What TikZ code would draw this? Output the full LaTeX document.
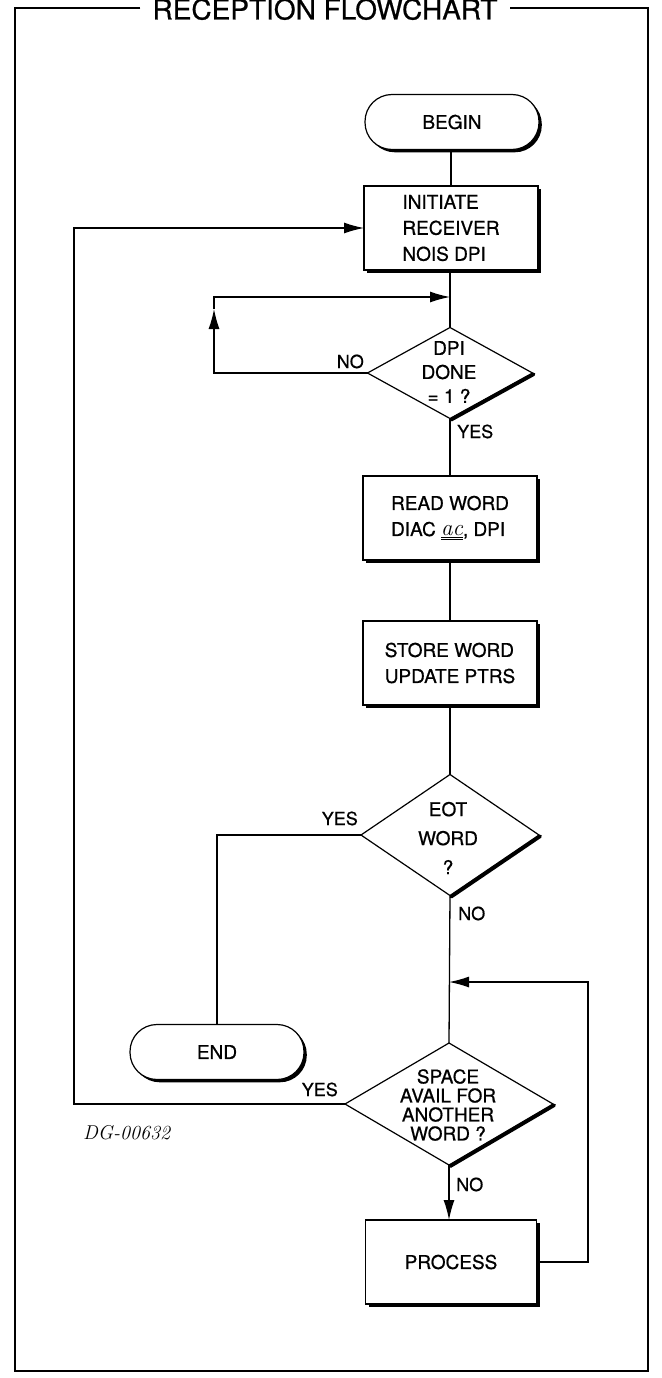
\documentclass[tikz,border=0pt]{standalone}
\usepackage{fontspec}
\setmainfont{TeX Gyre Heros}[FakeBold=0.7]
\usetikzlibrary{shapes.geometric,backgrounds,arrows.meta}
\newcommand{\acsym}{$\underline{\underline{\hbox{\fontfamily{lmr}\itshape\fontsize{23}{26}\selectfont ac}}}$}
\begin{document}
\begin{tikzpicture}[x=1pt,y=-1pt,
  frame/.style={line width=1.8pt},
  conn/.style={line width=1.3pt},
  arr/.style={-{Latex[length=20pt,width=11pt]}},
  box/.style={draw,line width=1.2pt,fill=white,minimum width=174pt,minimum height=84pt,
    inner sep=0pt,outer sep=0pt,align=left,font=\fontsize{19}{26}\selectfont},
  term/.style={draw,line width=1.2pt,fill=white,rounded corners=27pt,minimum width=174pt,
    minimum height=55pt,inner sep=0pt,outer sep=0pt,font=\fontsize{19}{22}\selectfont},
  dia/.style={draw,diamond,line width=1.2pt,fill=white,inner sep=0pt,outer sep=0pt},
  thickedge/.style={line width=3.6pt,line cap=round},
  shadowfill/.style={fill=black},
  txt/.style={align=center,inner sep=0pt,font=\fontsize{19}{24}\selectfont},
  lab/.style={inner sep=0pt,font=\fontsize{18}{20}\selectfont}]
\useasboundingbox (0,0) rectangle (661,1378);

% frame and title
\node[anchor=base,inner xsep=12pt,inner ysep=0pt,font=\fontsize{28}{32}\selectfont] (title) at (325,19.5) {RECEPTION FLOWCHART};
\coordinate (tl) at (15,8);
\coordinate (tr) at (648,8);
\coordinate (bl) at (15,1371);
\coordinate (br) at (648,1371);
\draw[frame] (title.west |- tl) -- (tl) -- (bl) -- (br) -- (tr) -- (title.east |- tr);

% nodes
\node[term] (begin) at (452,122) {BEGIN};
\node[box] (init) at (451,228) {INITIATE\\RECEIVER\\NOIS DPI};
\node[dia,minimum width=165pt,minimum height=91pt] (dpi) at (450,373) {};
\draw[thickedge] ([xshift=1.2pt,yshift=-1.2pt]dpi.east) -- ([xshift=1.2pt,yshift=-1.2pt]dpi.south);
\node[txt] (dpit) at (449,372) {DPI\\DONE\\= 1 ?};
\node[box] (read) at (450,518) {READ WORD\\DIAC \acsym, DPI};
\node[box] (store) at (450,663) {STORE WORD\\UPDATE PTRS};
\node[dia,minimum width=178pt,minimum height=121pt] (eot) at (450,835) {};
\draw[thickedge] ([xshift=1.2pt,yshift=-1.2pt]eot.east) -- ([xshift=1.2pt,yshift=-1.2pt]eot.south);
\node[txt,font=\fontsize{19}{29}\selectfont] (eott) at (448,838) {EOT\\WORD\\?};
\node[term] (endn) at (217,1052) {END};
\node[dia,minimum width=208pt,minimum height=122pt] (space) at (449,1104) {};
\draw[thickedge] ([xshift=1.2pt,yshift=-1.2pt]space.east) -- ([xshift=1.2pt,yshift=-1.2pt]space.south);
\node[txt,font=\fontsize{19}{19}\selectfont] (spacet) at (448,1105) {SPACE\\AVAIL FOR\\ANOTHER\\WORD ?};
\node[box,align=center,minimum width=171pt] (proc) at (451,1262) {PROCESS};

% drop shadows of boxes and terminals
\begin{scope}[on background layer]
  \foreach \n in {init,read,store,proc}
    \fill[shadowfill] ([xshift=3pt,yshift=-3pt]\n.south west) rectangle ([xshift=3pt,yshift=-3pt]\n.north east);
  \foreach \n in {begin,endn}
    \fill[shadowfill,rounded corners=27pt] ([xshift=2.8pt,yshift=-2.8pt]\n.south west) rectangle ([xshift=2.8pt,yshift=-2.8pt]\n.north east);
\end{scope}

% helper coordinates
\coordinate (l1) at (214,373);
\coordinate (l2) at (214,297);
\coordinate (l3) at (214,309);
\coordinate (j1) at (450,297);
\coordinate (j2) at (449,982);
\coordinate (fl) at (74,0);
\coordinate (fr) at (588,0);

% connectors
\draw[conn] (begin.south -| init.north) -- (init.north);
\draw[conn] (init.south -| dpi.north) -- (dpi.north);
\draw[conn,arr] (dpi.west) -- (l1) -- (l3);
\draw[conn,arr] (l3) -- (l2) -- (j1);
\draw[conn] (dpi.south) -- (read.north);
\draw[conn] (read.south) -- (store.north);
\draw[conn] (store.south) -- (eot.north);
\draw[conn] (eot.west) -| (endn.north);
\draw[conn] (eot.south) -- (space.north);
\draw[conn,arr] (space.south) -- (space.south |- proc.north);
\draw[conn,arr] (space.west) -- (space.west -| fl) |- (init.west);
\draw[conn,arr] (proc.east) -- (proc.east -| fr) |- (j2);

% labels
\node[lab,anchor=base east] (no1) at (364,368) {NO};
\node[lab,anchor=base west] (yes1) at (457,438) {YES};
\node[lab,anchor=base east] (yes2) at (358,825) {YES};
\node[lab,anchor=base west] (no2) at (458,920) {NO};
\node[lab,anchor=base east] (yes3) at (338,1096) {YES};
\node[lab,anchor=base west] (no3) at (456,1191) {NO};
\node[anchor=base west,inner sep=0pt,font=\fontfamily{lmr}\itshape\fontsize{20}{22}\selectfont] (dg) at (83,1139) {DG-00632};
\end{tikzpicture}
\end{document}
